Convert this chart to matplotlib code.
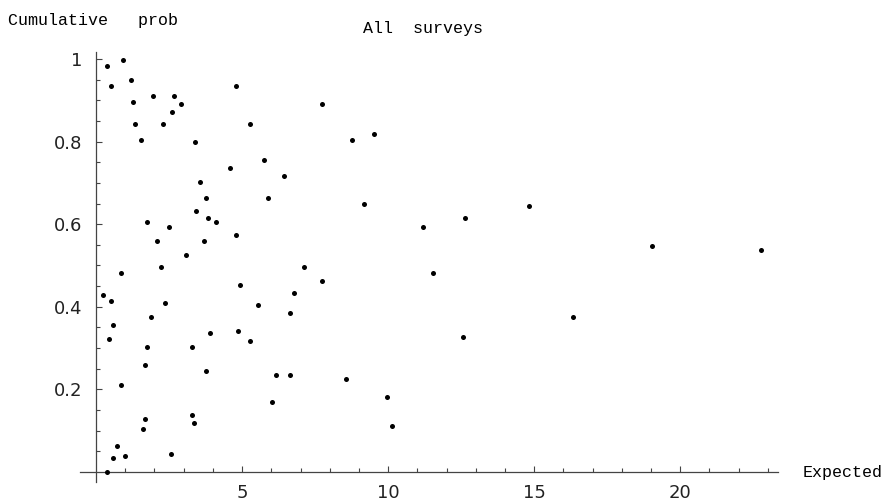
import matplotlib
matplotlib.use("Agg")
import matplotlib.pyplot as plt

# Data
expected = [0.38, 0.92, 0.52, 1.20, 1.26, 1.95, 2.68, 2.90, 2.61, 1.33,
            2.28, 1.54, 3.38, 4.80, 5.28, 5.76, 4.59, 6.43, 3.57, 3.77,
            5.89, 3.43, 1.74, 3.84, 4.12, 2.49, 2.08, 3.71, 4.80, 3.09,
            2.21, 7.12, 0.85, 4.94, 0.24, 0.51, 2.35, 6.78, 5.55, 6.64,
            1.88, 0.58, 0.44, 3.91, 4.87, 5.28, 1.74, 3.29, 1.67, 3.77,
            0.85, 6.17, 6.64, 6.03, 3.29, 3.36, 1.67, 1.61, 0.72, 0.58,
            0.99, 2.57, 0.37, 7.73, 8.75, 9.51, 9.16, 11.21, 12.64, 14.81,
            7.73, 11.55, 16.32, 12.56, 8.56, 9.97, 19.04, 22.78, 10.12]
cum_prob = [0.983, 0.998, 0.935, 0.949, 0.896, 0.910, 0.910, 0.891, 0.872, 0.842,
            0.842, 0.805, 0.800, 0.935, 0.842, 0.756, 0.737, 0.718, 0.703, 0.664,
            0.664, 0.631, 0.606, 0.616, 0.606, 0.592, 0.559, 0.559, 0.573, 0.525,
            0.496, 0.496, 0.481, 0.452, 0.428, 0.413, 0.408, 0.433, 0.404, 0.384,
            0.375, 0.356, 0.322, 0.336, 0.341, 0.317, 0.303, 0.303, 0.260, 0.244,
            0.211, 0.235, 0.235, 0.168, 0.138, 0.119, 0.129, 0.104, 0.062, 0.033,
            0.038, 0.042, 0.0, 0.891, 0.804, 0.819, 0.650, 0.592, 0.616, 0.645,
            0.462, 0.481, 0.375, 0.327, 0.225, 0.182, 0.548, 0.538, 0.110]

x_major = [5, 10, 15, 20]
x_major_labels = ["5", "10", "15", "20"]
x_minor = [i for i in range(1, 24) if i % 5 != 0]
y_major = [0.2, 0.4, 0.6, 0.8, 1.0]
y_major_labels = ["0.2", "0.4", "0.6", "0.8", "1"]
y_minor = [round(0.05 * i, 2) for i in range(1, 20) if i % 4 != 0]

title = "All  surveys"
ylabel = "Cumulative   prob"
xlabel = "Expected"

W, H = 885, 504
fig = plt.figure(figsize=(W / 100, H / 100), dpi=100)
fig.patch.set_facecolor("white")

# axes rectangle in pixels
left_px, right_px, top_px, bot_px = 80, 778.3, 51.7, 481.7
ax = fig.add_axes([left_px / W, 1 - bot_px / H, (right_px - left_px) / W, (bot_px - top_px) / H])
ax.set_xlim(-0.55, 23.36)
ax.set_ylim(-0.024, 1.018)
ax.set_facecolor("none")

ax.scatter(expected, cum_prob, s=13, c="black", linewidths=0, zorder=3)

axis_color = "#444444"
for s in ["top", "right"]:
    ax.spines[s].set_visible(False)
ax.spines["left"].set_position(("data", 0))
ax.spines["bottom"].set_position(("data", 0))
for s in ["left", "bottom"]:
    ax.spines[s].set_color(axis_color)
    ax.spines[s].set_linewidth(0.9)

ax.set_xticks(x_major, x_major_labels)
ax.set_xticks(x_minor, minor=True)
ax.set_yticks(y_major, y_major_labels)
ax.set_yticks(y_minor, minor=True)

ax.tick_params(axis="both", which="major", direction="in", length=4.0, width=0.8,
               color=axis_color, labelsize=13, labelcolor="#222222")
ax.tick_params(axis="both", which="minor", direction="in", length=2.6, width=0.8,
               color=axis_color)
ax.tick_params(axis="x", which="major", pad=9)
ax.tick_params(axis="y", which="major", pad=10)
for lab in ax.get_xticklabels() + ax.get_yticklabels():
    lab.set_fontfamily("DejaVu Sans")

mono = "Liberation Mono"
fig.text(8.3 / W, 1 - 25 / H, ylabel, family=mono, fontsize=12, ha="left", va="baseline", color="black")
fig.text(363.3 / W, 1 - 32.7 / H, title, family=mono, fontsize=12, ha="left", va="baseline", color="black")
fig.text(802.7 / W, 1 - 476.7 / H, xlabel, family=mono, fontsize=12, ha="left", va="baseline", color="black")

fig.savefig("out.png", dpi=100, facecolor="white")
